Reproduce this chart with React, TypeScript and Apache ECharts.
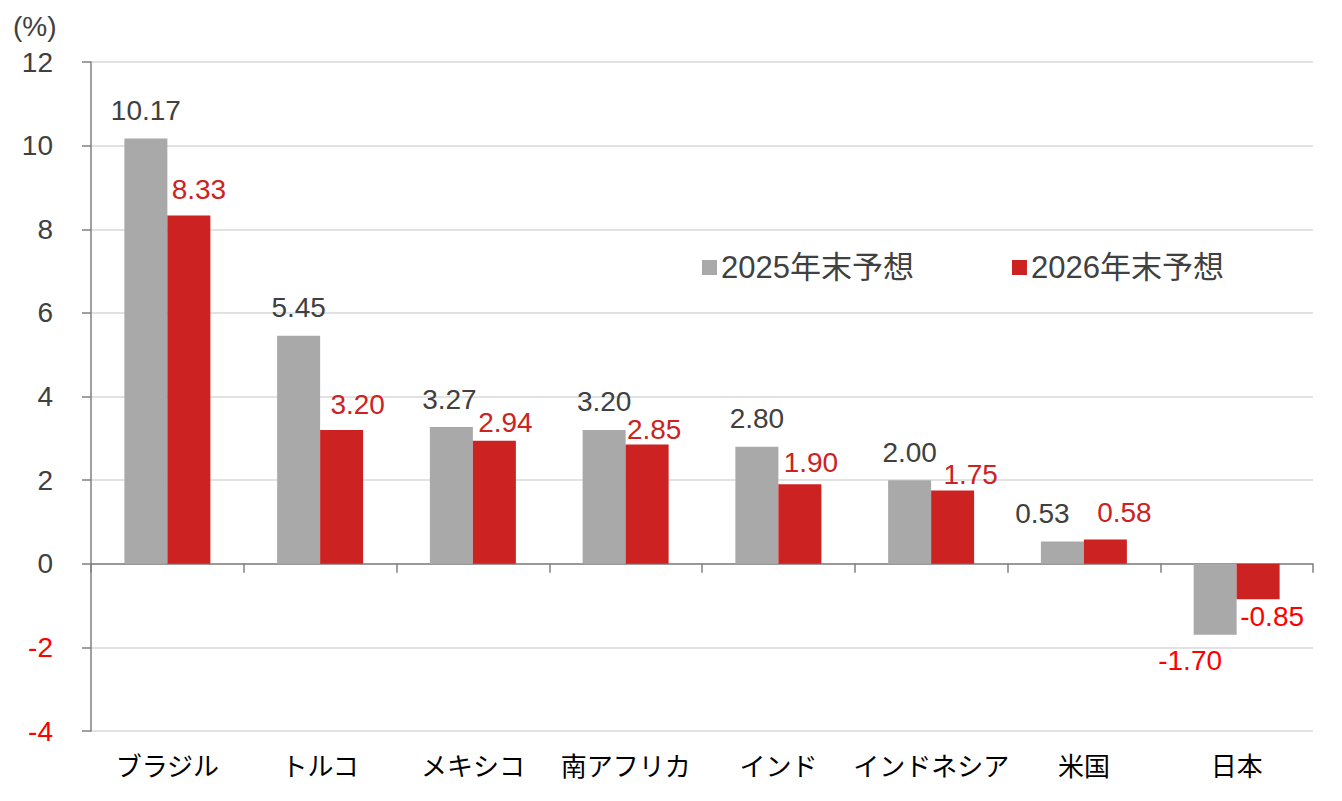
import React, { useEffect, useRef } from "react";
import * as echarts from "echarts";

const categories = ["ブラジル", "トルコ", "メキシコ", "南アフリカ", "インド", "インドネシア", "米国", "日本"];
const values2025 = [10.17, 5.45, 3.27, 3.2, 2.8, 2.0, 0.53, -1.7];
const values2026 = [8.33, 3.2, 2.94, 2.85, 1.9, 1.75, 0.58, -0.85];
const seriesNames = ["2025年末予想", "2026年末予想"];
const yTicks = { min: -4, max: 12, interval: 2 };

// label placement tweaks (style only, pixels)
const labelShift2025: [number, number][] = [[0, -2], [0, -2], [-2, -2], [0, -2], [0, -2], [0, -2], [-20, -2], [-25, 0]];
const labelShift2026: [number, number][] = [[10, 0], [16, 1], [11, 8], [7, 11], [11, 4], [18, 10], [19, -1], [14, -9]];

const FONT = '"Liberation Sans", "Noto Sans CJK JP", sans-serif';
const GRAY = "#A9A9A9";
const RED = "#CC2222";
const NEG = "#FF0000";
const TEXT = "#404040";

export default function App() {
  const ref = useRef<HTMLDivElement>(null);
  useEffect(() => {
    if (!ref.current) return;
    const chart = echarts.init(ref.current, null, { renderer: "svg" });

    const d2025 = values2025.map((v, i) => ({
      value: v,
      label:
        v < 0
          ? { position: "bottom", color: NEG, offset: labelShift2025[i] }
          : { position: "top", color: TEXT, offset: labelShift2025[i] },
    }));
    const d2026 = values2026.map((v, i) => ({
      value: v,
      label:
        v < 0
          ? { position: "bottom", color: NEG, offset: labelShift2026[i] }
          : { position: "top", color: RED, offset: labelShift2026[i] },
    }));

    const labelBase = {
      show: true,
      fontSize: 28,
      fontFamily: FONT,
      distance: 12,
      formatter: (p: any) => Number(p.value).toFixed(2),
    };

    chart.setOption({
      animation: false,
      textStyle: { fontFamily: FONT },
      grid: { left: 91, right: 29, top: 62, bottom: 70, containLabel: false },
      legend: {
        data: seriesNames,
        left: 697,
        top: 247,
        icon: "rect",
        itemWidth: 15,
        itemHeight: 15,
        itemGap: 98,
        textStyle: { fontSize: 31, color: TEXT, fontFamily: FONT, padding: [0, 0, 0, -1] },
      },
      graphic: [
        {
          type: "text",
          left: 13,
          top: 12,
          style: { text: "(%)", fontSize: 28, fill: TEXT, fontFamily: FONT },
        },
      ],
      xAxis: [
        {
          type: "category",
          data: categories,
          position: "bottom",
          axisLine: { show: false, onZero: false },
          axisTick: { show: false },
          axisLabel: { fontSize: 26, color: "#000000", margin: 23, interval: 0, fontFamily: FONT },
        },
        {
          type: "category",
          data: categories,
          position: "top",
          axisLine: { show: true, onZero: true, lineStyle: { color: "#808080", width: 1.5 } },
          axisTick: { show: true, inside: true, length: 9, lineStyle: { color: "#808080", width: 1.5 } },
          axisLabel: { show: false },
          splitLine: { show: false },
        },
      ],
      yAxis: {
        type: "value",
        min: yTicks.min,
        max: yTicks.max,
        interval: yTicks.interval,
        axisLine: { show: true, lineStyle: { color: "#808080", width: 1.5 } },
        axisTick: { show: true, length: 9, lineStyle: { color: "#808080", width: 1.5 } },
        axisLabel: {
          fontSize: 28,
          margin: 38,
          fontFamily: FONT,
          color: (val: any) => (Number(val) < 0 ? NEG : TEXT),
        },
        splitLine: { show: true, lineStyle: { color: "#D9D9D9", width: 1.5 } },
      },
      series: [
        {
          name: seriesNames[0],
          type: "bar",
          xAxisIndex: 0,
          data: d2025,
          barWidth: 43,
          barGap: "0%",
          itemStyle: { color: GRAY },
          label: labelBase,
        },
        {
          name: seriesNames[1],
          type: "bar",
          xAxisIndex: 0,
          data: d2026,
          barWidth: 43,
          barGap: "0%",
          itemStyle: { color: RED },
          label: labelBase,
        },
      ],
    });
    return () => chart.dispose();
  }, []);
  return (
    <div
      ref={ref}
      style={{ position: "absolute", left: 0, top: 0, width: 1342, height: 801 }}
    />
  );
}
